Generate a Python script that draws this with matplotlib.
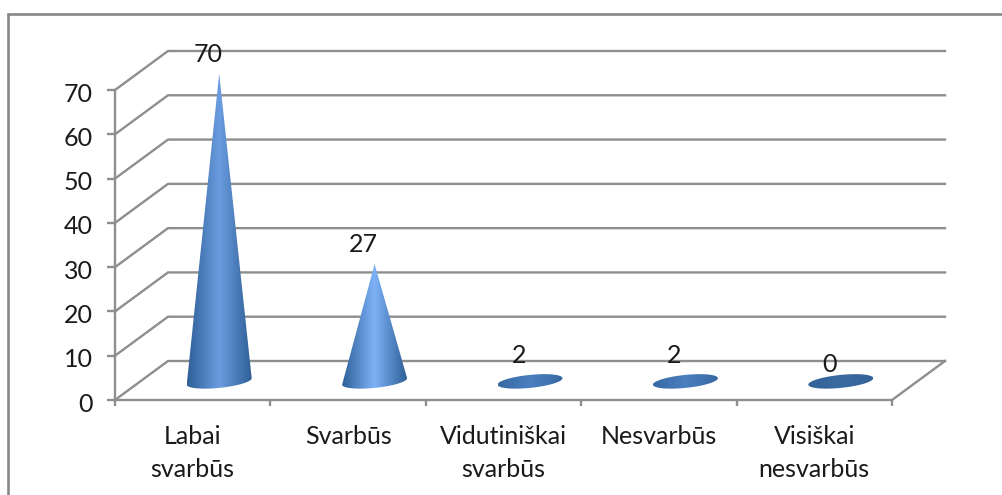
import matplotlib
matplotlib.use("Agg")

import matplotlib.pyplot as plt
import numpy as np
from matplotlib.colors import LinearSegmentedColormap
from matplotlib.patches import Polygon, Rectangle
from matplotlib.transforms import ScaledTranslation

CATEGORIES = ["Labai\nsvarbūs", "Svarbūs", "Vidutiniškai\nsvarbūs", "Nesvarbūs", "Visiškai\nnesvarbūs"]
VALUES = [70, 27, 2, 2, 0]
Y_TICKS = [0, 10, 20, 30, 40, 50, 60, 70]

# light colour at the middle of each cone
CENTER_COLORS = ["#6a9ce0", "#7db2f7", "#4a7fc0", "#4a7fc0", "#3b6a9f"]

GRID = "#8e8e8e"
TEXT = "#1a1a1a"
EDGE = "#2f5f96"
FONT_SIZE = 18

W, H = 1002, 495
LEFT, RIGHT, TOP, BOTTOM = 115, 892, 90, 400

plt.rcParams["font.family"] = ["Lato", "DejaVu Sans"]

fig = plt.figure(figsize=(W / 100, H / 100), dpi=100, facecolor="white")
ax = fig.add_axes([LEFT / W, 1 - BOTTOM / H, (RIGHT - LEFT) / W, (BOTTOM - TOP) / H])
ax.patch.set_alpha(0)

# depth of the 3d floor, in data units
x_unit = (RIGHT - LEFT) / 5
y_unit = (BOTTOM - TOP) / 70
depth_x = 53 / x_unit
depth_y = 39 / y_unit

# frame around the chart
fig.add_artist(Rectangle((8 / W, -0.1), 1.2, 1 - 14 / H + 0.1, transform=fig.transFigure,
                         fill=False, edgecolor="#878787", linewidth=1.9))

# walls and floor
for tick in Y_TICKS:
    ax.plot([0, depth_x, 5 + depth_x], [tick, tick + depth_y, tick + depth_y],
            color=GRID, lw=1.7, clip_on=False, zorder=1, solid_joinstyle="miter")
ax.plot([5, 5 + depth_x], [0, depth_y], color=GRID, lw=1.7, clip_on=False, zorder=1)

t = np.linspace(0, 2 * np.pi, 200)
half_w = 32.5 / x_unit
half_h = 6.5 / y_unit
tilt = 3.2 / y_unit

for i, value in enumerate(VALUES):
    cx = i + 0.5 + depth_x / 2
    cy = 4.2
    ex = cx + half_w * np.cos(t)
    ey = cy + half_h * np.sin(t) + tilt * np.cos(t)
    cmap = LinearSegmentedColormap.from_list("cone", [EDGE, CENTER_COLORS[i], EDGE])
    gradient = np.linspace(0, 1, 256).reshape(1, -1)

    if value > 2:
        # only the front half of the base shows under the cone
        arc_t = t[t >= np.pi]
        arc_x = cx + half_w * np.cos(arc_t)
        arc_y = cy + half_h * np.sin(arc_t) + tilt * np.cos(arc_t)
        top = cy - 0.5 + value
        points = np.column_stack([np.r_[cx, arc_x], np.r_[top, arc_y]])
    else:
        points = np.column_stack([ex, ey])
        top = ey.max()
        gradient = np.linspace(0.15, 0.85, 256).reshape(1, -1)

    image = ax.imshow(gradient, cmap=cmap, vmin=0, vmax=1, aspect="auto", zorder=3,
                      extent=[cx - half_w, cx + half_w, ey.min(), top], interpolation="bilinear")
    shape = Polygon(points, closed=True, transform=ax.transData, facecolor="none", edgecolor="none")
    ax.add_patch(shape)
    image.set_clip_path(shape)
    image.set_clip_box(fig.bbox)

    # value label sits up and to the left of the tip
    ax.annotate(str(value), (cx, cy + value), xytext=(-11, 17), textcoords="offset pixels",
                ha="center", va="center", fontsize=FONT_SIZE, color=TEXT, zorder=4, annotation_clip=False)

ax.set_xlim(0, 5)
ax.set_ylim(0, 70)

for side in ["top", "right"]:
    ax.spines[side].set_visible(False)
for side in ["left", "bottom"]:
    ax.spines[side].set_color(GRID)
    ax.spines[side].set_linewidth(1.7)

ax.set_yticks(Y_TICKS)
ax.set_xticks(np.arange(6))
ax.set_xticklabels([])
ax.set_xticks(np.arange(5) + 0.5, minor=True)
ax.set_xticklabels(CATEGORIES, minor=True, fontsize=FONT_SIZE, color=TEXT, linespacing=1.55)
ax.tick_params(axis="x", which="major", length=4, width=1.7, color=GRID)
ax.tick_params(axis="x", which="minor", length=0, pad=18)
ax.tick_params(axis="y", length=5.8, width=1.7, color=GRID, labelsize=FONT_SIZE, labelcolor=TEXT, pad=10)

# y labels sit a little under their ticks
for label in ax.get_yticklabels():
    label.set_transform(label.get_transform() + ScaledTranslation(0, -2 / 100, fig.dpi_scale_trans))

fig.savefig("out.png", dpi=100)
plt.close(fig)
